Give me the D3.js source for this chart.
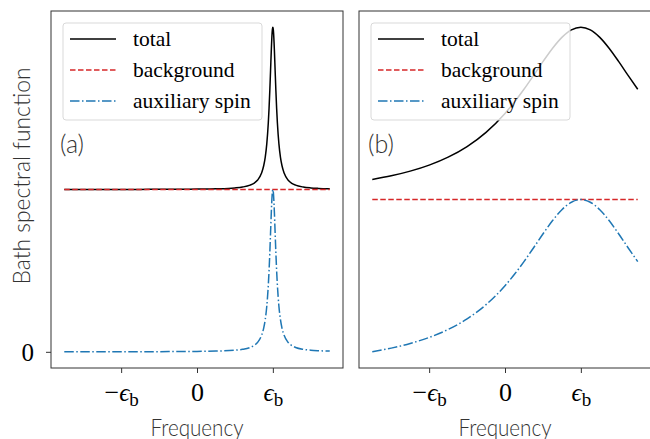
<!DOCTYPE html>
<html>
<head>
<meta charset="utf-8">
<script src="https://cdnjs.cloudflare.com/ajax/libs/d3/7.8.5/d3.min.js"></script>
<style>
  body { margin: 0; background: #fff; }
</style>
</head>
<body>
<svg width="650" height="439"></svg>
<script>
// Panel (a): narrow resonance (frequency in units of eps_b)
const freqA = [-1.75, -1.5, -1.25, -1, -0.75, -0.5, -0.25, 0, 0.25, 0.5, 0.6, 0.7, 0.75, 0.8, 0.85, 0.88,
  0.9, 0.92, 0.94, 0.95, 0.96, 0.97, 0.98, 0.99, 0.995, 1, 1.005, 1.01, 1.02, 1.03, 1.04, 1.05, 1.06,
  1.08, 1.1, 1.12, 1.15, 1.2, 1.25, 1.3, 1.4, 1.5, 1.6, 1.75];
const auxA = [0.0003, 0.0004, 0.0005, 0.0006, 0.0008, 0.0011, 0.0016, 0.0025, 0.0044, 0.0099, 0.0154,
  0.027, 0.0385, 0.0588, 0.1, 0.148, 0.2, 0.281, 0.41, 0.5, 0.61, 0.735, 0.862, 0.962, 0.99, 1, 0.99,
  0.962, 0.862, 0.735, 0.61, 0.5, 0.41, 0.281, 0.2, 0.148, 0.1, 0.0588, 0.0385, 0.027, 0.0154, 0.0099,
  0.0069, 0.0044];
const totalA = [1.0003, 1.0004, 1.0005, 1.0006, 1.0008, 1.0011, 1.0016, 1.0025, 1.0044, 1.0099, 1.0154,
  1.027, 1.0385, 1.0588, 1.1, 1.148, 1.2, 1.281, 1.41, 1.5, 1.61, 1.735, 1.862, 1.962, 1.99, 2, 1.99,
  1.962, 1.862, 1.735, 1.61, 1.5, 1.41, 1.281, 1.2, 1.148, 1.1, 1.0588, 1.0385, 1.027, 1.0154, 1.0099,
  1.0069, 1.0044];
const bgFreqA = [-1.75, 1.75];
const backgroundA = [1, 1];

// Panel (b): broad resonance
const freqB = [-1.75, -1.5, -1.25, -1, -0.75, -0.5, -0.25, 0, 0.125, 0.25, 0.375, 0.5, 0.625, 0.75, 0.875,
  1, 1.125, 1.25, 1.375, 1.5, 1.625, 1.75];
const auxB = [0.1168, 0.1379, 0.1649, 0.2, 0.2462, 0.3077, 0.3902, 0.5, 0.5664, 0.64, 0.7191, 0.8, 0.8767,
  0.9412, 0.9846, 1, 0.9846, 0.9412, 0.8767, 0.8, 0.7191, 0.64];
const totalB = [1.1168, 1.1379, 1.1649, 1.2, 1.2462, 1.3077, 1.3902, 1.5, 1.5664, 1.64, 1.7191, 1.8, 1.8767,
  1.9412, 1.9846, 2, 1.9846, 1.9412, 1.8767, 1.8, 1.7191, 1.64];
const bgFreqB = [-1.75, 1.75];
const backgroundB = [1, 1];

const seriesNames = ["total", "background", "auxiliary spin"];
const xTicks = [-1, 0, 1];
const xTickSigns = ["−", "", ""];
const xTickSymbols = ["ϵ", "0", "ϵ"];
const xTickSubs = ["b", "", "b"];

const colors = { total: "#000000", background: "#d62728", aux: "#1f77b4" };
const dashes = { total: null, background: "5.5,2.5", aux: "9.5,2.5,1.5,2.5" };

const svg = d3.select("svg");
const sansFont = "Lato, 'Open Sans', sans-serif";
const serifFont = "'Liberation Serif', 'DejaVu Serif', serif";

const plotTop = 11, plotBottom = 368, panelW = 292;

function padded(ext) {
  const r = ext[1] - ext[0];
  return [ext[0] - 0.05 * r, ext[1] + 0.05 * r];
}

function drawPanel(left, label, freq, total, bgFreq, bg, aux, showYTick) {
  const g = svg.append("g");

  const x = d3.scaleLinear()
    .domain(padded(d3.extent(freq)))
    .range([left, left + panelW]);
  const y = d3.scaleLinear()
    .domain(padded(d3.extent(aux.concat(total, bg))))
    .range([plotBottom, plotTop]);

  const line = (xs, ys) => d3.line()
    .x((d, i) => x(xs[i]))
    .y(d => y(d))
    .curve(d3.curveMonotoneX)(ys);

  g.append("path").attr("d", line(freq, total))
    .attr("fill", "none").attr("stroke", colors.total).attr("stroke-width", 1.5);
  g.append("path").attr("d", line(bgFreq, bg))
    .attr("fill", "none").attr("stroke", colors.background).attr("stroke-width", 1.5)
    .attr("stroke-dasharray", dashes.background);
  g.append("path").attr("d", line(freq, aux))
    .attr("fill", "none").attr("stroke", colors.aux).attr("stroke-width", 1.5)
    .attr("stroke-dasharray", dashes.aux);

  // frame
  g.append("rect")
    .attr("x", left).attr("y", plotTop)
    .attr("width", panelW).attr("height", plotBottom - plotTop)
    .attr("fill", "none").attr("stroke", "#333").attr("stroke-width", 1);

  // x axis
  const xAxis = g.append("g")
    .attr("transform", `translate(0,${plotBottom})`)
    .call(d3.axisBottom(x).tickValues(xTicks).tickSize(5).tickFormat(""));
  xAxis.select(".domain").remove();
  xAxis.selectAll("line").attr("stroke", "#333");
  xAxis.selectAll(".tick").append("text")
    .attr("y", 33)
    .attr("fill", "#000")
    .attr("font-family", serifFont)
    .attr("font-size", 26)
    .attr("text-anchor", "middle")
    .each(function(d, i) {
      const t = d3.select(this);
      if (xTickSigns[i]) t.append("tspan").text(xTickSigns[i]);
      if (xTickSubs[i]) {
        t.append("tspan").attr("font-style", "italic").attr("font-size", 25).text(xTickSymbols[i]);
        t.append("tspan").attr("dy", 5).attr("font-size", 19).text(xTickSubs[i]);
      } else {
        t.append("tspan").text(xTickSymbols[i]);
      }
    });

  if (showYTick) {
    const yAxis = g.append("g")
      .attr("transform", `translate(${left},0)`)
      .call(d3.axisLeft(y).tickValues([0]).tickSize(5).tickFormat(""));
    yAxis.select(".domain").remove();
    yAxis.selectAll("line").attr("stroke", "#333");
    yAxis.selectAll(".tick").append("text")
      .attr("x", -17).attr("dy", "0.33em")
      .attr("fill", "#000")
      .attr("font-family", serifFont)
      .attr("font-size", 25)
      .attr("text-anchor", "end")
      .text("0");
  }

  g.append("text")
    .attr("x", left + panelW / 2).attr("y", 436)
    .attr("text-anchor", "middle")
    .attr("font-family", sansFont).attr("font-weight", 300)
    .attr("font-size", 24).attr("fill", "#333")
    .attr("textLength", 93).attr("lengthAdjust", "spacingAndGlyphs")
    .text("Frequency");

  // legend
  const lg = g.append("g").attr("transform", `translate(${left + 12},${plotTop + 12})`);
  lg.append("rect")
    .attr("width", 199).attr("height", 97).attr("rx", 3)
    .attr("fill", "#fff").attr("fill-opacity", 0.8)
    .attr("stroke", "#d9d9d9");
  const keys = ["total", "background", "aux"];
  seriesNames.forEach((name, i) => {
    const yy = 16 + i * 31;
    lg.append("line")
      .attr("x1", 7).attr("x2", 53).attr("y1", yy).attr("y2", yy)
      .attr("stroke", colors[keys[i]]).attr("stroke-width", 1.5)
      .attr("stroke-dasharray", dashes[keys[i]]);
    lg.append("text")
      .attr("x", 70).attr("y", yy).attr("dy", "0.32em")
      .attr("font-family", serifFont).attr("font-size", 21.5)
      .attr("fill", "#000")
      .text(name);
  });

  g.append("text")
    .attr("x", left + 9).attr("y", 153)
    .attr("font-family", sansFont).attr("font-weight", 300)
    .attr("font-size", 25).attr("fill", "#333")
    .text(label);
}

drawPanel(51, "(a)", freqA, totalA, bgFreqA, backgroundA, auxA, true);
drawPanel(359, "(b)", freqB, totalB, bgFreqB, backgroundB, auxB, false);

svg.append("text")
  .attr("transform", "translate(29.5,176) rotate(-90)")
  .attr("text-anchor", "middle")
  .attr("font-family", sansFont).attr("font-weight", 300)
  .attr("font-size", 24).attr("fill", "#333")
  .attr("textLength", 217).attr("lengthAdjust", "spacingAndGlyphs")
  .text("Bath spectral function");
</script>
</body>
</html>
